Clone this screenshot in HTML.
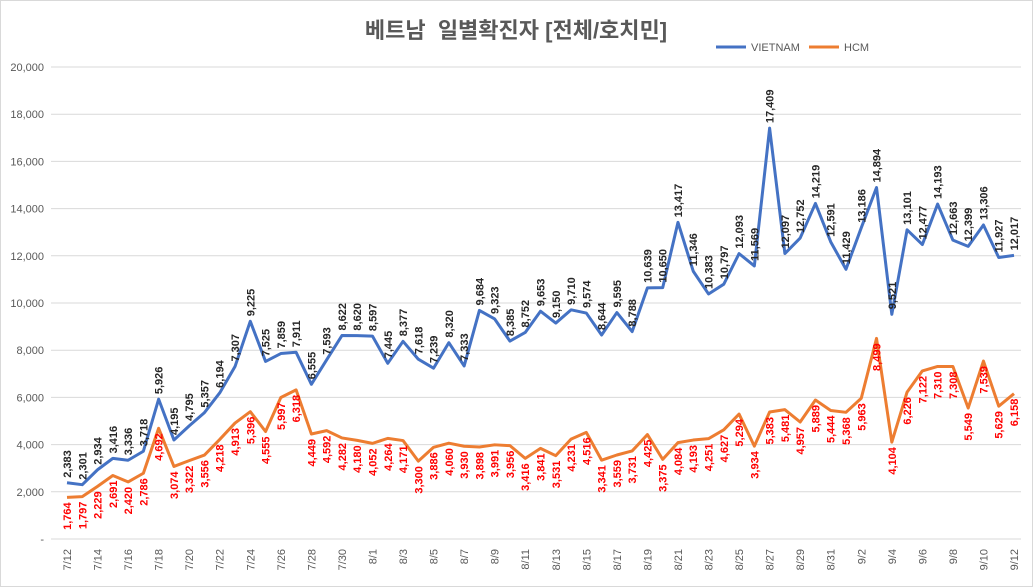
<!DOCTYPE html>
<html><head><meta charset="utf-8">
<style>
body{margin:0;background:#fff;font-family:"Liberation Sans","Noto Sans CJK KR",sans-serif;}
#wrap{width:1031px;height:585px;border:1px solid #d9d9d9;position:relative;overflow:hidden;}
</style></head>
<body>
<div id="wrap">
<svg id="chart" width="1033" height="587"></svg>
</div>
<script>
const dates=[];
(function(){let m=7,d=12;for(let i=0;i<63;i++){dates.push(m+'/'+d);d++;if(m===7&&d>31){m=8;d=1}else if(m===8&&d>31){m=9;d=1}}})();
const vietnam=[2383,2301,2934,3416,3336,3718,5926,4195,4795,5357,6194,7307,9225,7525,7859,7911,6555,7593,8622,8620,8597,7445,8377,7618,7239,8320,7333,9684,9323,8385,8752,9653,9150,9710,9574,8644,9595,8788,10639,10650,13417,11346,10383,10797,12093,11569,17409,12097,12752,14219,12591,11429,13186,14894,9521,13101,12477,14193,12663,12399,13306,11927,12017];
const hcm=[1764,1797,2229,2691,2420,2786,4692,3074,3322,3556,4218,4913,5396,4555,5997,6318,4449,4592,4282,4180,4052,4264,4171,3300,3886,4060,3930,3898,3991,3956,3416,3841,3531,4231,4516,3341,3559,3731,4425,3375,4084,4193,4251,4627,5294,3934,5383,5481,4957,5889,5444,5368,5963,8499,4104,6226,7122,7310,7308,5549,7539,5629,6158];
const yTicks=[0,2000,4000,6000,8000,10000,12000,14000,16000,18000,20000];
const NS='http://www.w3.org/2000/svg';
const svg=document.getElementById('chart');
const x0=66,x1=1013,yTop=66,yBot=538;
const xs=i=>x0+(x1-x0)*i/(dates.length-1);
const ys=v=>yBot-(yBot-yTop)*v/20000;
function mk(t,a,p){const e=document.createElementNS(NS,t);for(const k in a)e.setAttribute(k,a[k]);(p||svg).appendChild(e);return e;}
const fmt=v=>v.toLocaleString('en-US');
let t=mk('text',{x:515,y:37,'text-anchor':'middle','font-size':22,'font-weight':'bold',fill:'#595959',style:'white-space:pre'});
t.textContent='베트남  일별확진자 [전체/호치민]';


yTicks.forEach(v=>{
 const l=mk('line',{x1:50,x2:1020,y1:ys(v),y2:ys(v),stroke:'#d9d9d9','stroke-width':1});
 
 
 const tx=mk('text',{x:43,y:ys(v)+4,'text-anchor':'end','font-size':11,fill:'#595959'});
 tx.textContent=v===0?'-':fmt(v);
 
 
});
dates.forEach((d,i)=>{
 if(i%2)return;
 const tx=mk('text',{x:0,y:0,'text-anchor':'end','font-size':11,fill:'#595959',transform:`translate(${xs(i)+4},548) rotate(-90)`});
 tx.textContent=d;
 
 
});
function series(vals,color,name,labColor,above){
 const p=mk('polyline',{points:vals.map((v,i)=>xs(i)+','+ys(v)).join(' '),fill:'none',stroke:color,'stroke-width':3,'stroke-linejoin':'round'});
 
 
 vals.forEach((v,i)=>{
  const y=above?ys(v)-5:ys(v)+5;
  const tx=mk('text',{x:0,y:0,'text-anchor':above?'start':'end','font-size':11,'font-weight':'bold',fill:labColor,transform:`translate(${xs(i)+4},${y}) rotate(-90)`});
  tx.textContent=fmt(v);
  
  
 });
}
series(hcm,'#ed7d31','hcm','#ff0000',false);
series(vietnam,'#4472c4','vietnam','#262626',true);
[[715,'#4472c4','VIETNAM'],[808,'#ed7d31','HCM']].forEach(([x,c,n])=>{
 const g=mk('g',{});
 
 
 mk('line',{x1:x,x2:x+30,y1:46,y2:46,stroke:c,'stroke-width':3},g);
 const tx=mk('text',{x:x+35,y:50,'font-size':11,fill:'#595959'},g);
 tx.textContent=n;
});
</script>
</body></html>
